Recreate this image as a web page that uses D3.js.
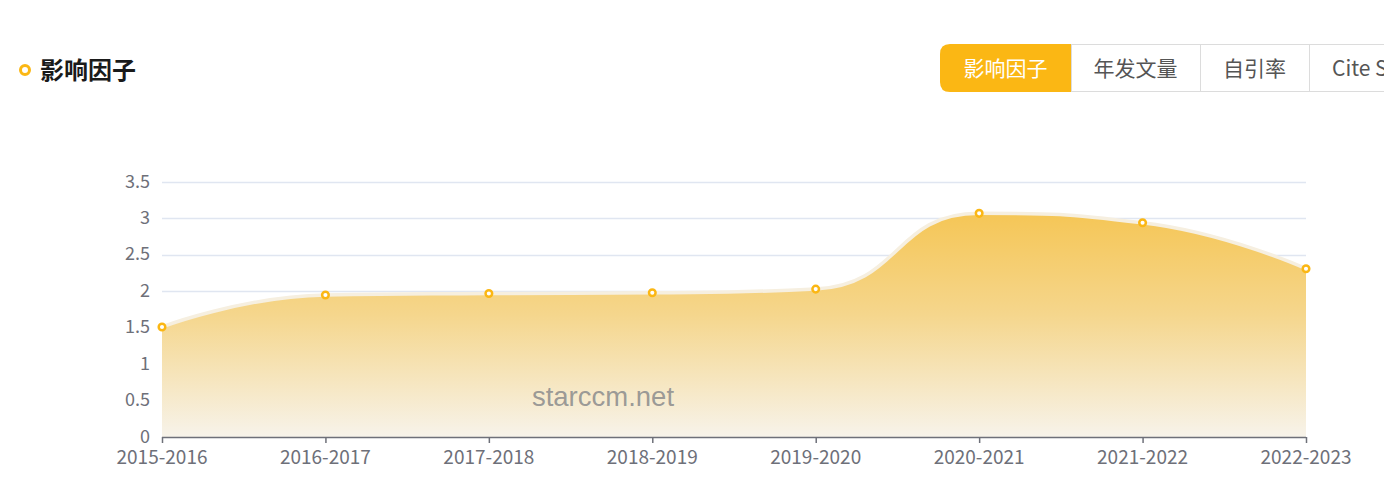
<!DOCTYPE html>
<html><head><meta charset="utf-8">
<script src="https://cdn.jsdelivr.net/npm/d3@7"></script>
<style>
body{margin:0;background:#fff;overflow:hidden;}
</style></head>
<body>
<svg id="chart" width="1384" height="490"></svg>
<script>
const categories = ["2015-2016","2016-2017","2017-2018","2018-2019","2019-2020","2020-2021","2021-2022","2022-2023"];
const values = [1.51, 1.95, 1.97, 1.98, 2.03, 3.07, 2.94, 2.31];
const yTicks = [0, 0.5, 1, 1.5, 2, 2.5, 3, 3.5];
const tabs = ["影响因子","年发文量","自引率","Cite Score"];
const title = "影响因子";
const watermark = "starccm.net";

(function(){
const svg = d3.select("#chart");
const font = "'Microsoft YaHei','Noto Sans CJK SC','Noto Sans',sans-serif";
const pL = 162, pR = 1306, pT = 182, pB = 437;

const x = d3.scalePoint().domain(categories).range([pL, pR]);
const y = d3.scaleLinear().domain([0, 3.5]).range([pB, pT]);

// title
svg.append("circle").attr("cx", 25).attr("cy", 70).attr("r", 4.5)
  .attr("fill", "#fff").attr("stroke", "#fbb714").attr("stroke-width", 3);
svg.append("text").attr("x", 40).attr("y", 79).text(title)
  .attr("font-family", font).attr("font-size", 24).attr("font-weight", "bold").attr("fill", "#1a1a1a");

// tabs
const tabX = [940, 1071, 1200, 1309, 1460];
const tg = svg.append("g");
tabs.forEach((t, i) => {
  const x0 = tabX[i], x1 = tabX[i+1];
  if (i === 0) {
    const r = 10, t0 = 44, b0 = 92;
    tg.append("path").attr("d", `M${x1},${t0} L${x0+r},${t0} Q${x0},${t0} ${x0},${t0+r} L${x0},${b0-r} Q${x0},${b0} ${x0+r},${b0} L${x1},${b0} Z`)
      .attr("fill", "#fbb714");
  } else {
    tg.append("rect").attr("x", x0 + 0.5).attr("y", 44.5).attr("width", x1 - x0).attr("height", 47)
      .attr("fill", "#fff").attr("stroke", "#dcdcdc").attr("stroke-width", 1);
  }
  tg.append("text").attr("y", 76)
    .attr("text-anchor", i===3 ? "start" : "middle")
    .attr("x", i===3 ? 1332 : (x0 + x1) / 2)
    .attr("font-family", font).attr("font-size", 21)
    .attr("fill", i === 0 ? "#fff" : "#555").text(t);
});

// grid
svg.append("g").selectAll("line").data(yTicks.filter(d => d > 0)).join("line")
  .attr("x1", pL).attr("x2", pR).attr("y1", d => Math.round(y(d)) + 0.5).attr("y2", d => Math.round(y(d)) + 0.5)
  .attr("stroke", "#e0e6f1").attr("stroke-width", 1.5);

// y labels
svg.append("g").selectAll("text").data(yTicks).join("text")
  .attr("x", 150).attr("y", d => y(d) + 5.5).attr("text-anchor", "end")
  .attr("font-family", font).attr("font-size", 18).attr("fill", "#6e7079")
  .text(d => d);

// ECharts 5 style smooth bezier (segment-constrained)
const pts = categories.map((c, i) => [x(c), y(values[i])]);
const smooth = 0.5;
function linePath(ctx) {
  const n = pts.length;
  let cp0 = pts[0].slice();
  ctx.moveTo(pts[0][0], pts[0][1]);
  for (let i = 1; i < n; i++) {
    const [px, py] = pts[i-1];
    const [cx, cy] = pts[i];
    let cp1x, cp1y, nx0, ny0;
    if (i === n - 1) {
      cp1x = cx; cp1y = cy; nx0 = cx; ny0 = cy;
    } else {
      const [nx, ny] = pts[i+1];
      let vx = nx - px, vy = ny - py;
      const lp = Math.hypot(cx - px, cy - py), ln = Math.hypot(nx - cx, ny - cy);
      const r = ln / (ln + lp);
      cp1x = cx - vx * smooth * (1 - r); cp1y = cy - vy * smooth * (1 - r);
      nx0 = cx + vx * smooth * r; ny0 = cy + vy * smooth * r;
      nx0 = Math.max(Math.min(nx0, Math.max(nx, cx)), Math.min(nx, cx));
      ny0 = Math.max(Math.min(ny0, Math.max(ny, cy)), Math.min(ny, cy));
      vx = nx0 - cx; vy = ny0 - cy;
      cp1x = cx - vx * lp / ln; cp1y = cy - vy * lp / ln;
      cp1x = Math.max(Math.min(cp1x, Math.max(px, cx)), Math.min(px, cx));
      cp1y = Math.max(Math.min(cp1y, Math.max(py, cy)), Math.min(py, cy));
      vx = cx - cp1x; vy = cy - cp1y;
      nx0 = cx + vx * ln / lp; ny0 = cy + vy * ln / lp;
    }
    ctx.bezierCurveTo(cp0[0], cp0[1], cp1x, cp1y, cx, cy);
    cp0 = [nx0, ny0];
  }
  return ctx;
}
const areaP = linePath(d3.path());
areaP.lineTo(pts[pts.length-1][0], y(0));
areaP.lineTo(pts[0][0], y(0));
areaP.closePath();

const defs = svg.append("defs");
const grad = defs.append("linearGradient").attr("id", "ag").attr("x1", 0).attr("y1", 0).attr("x2", 0).attr("y2", 1);
grad.append("stop").attr("offset", "0%").attr("stop-color", "#f5c656");
grad.append("stop").attr("offset", "45%").attr("stop-color", "#f5d68c");
grad.append("stop").attr("offset", "100%").attr("stop-color", "#f7f3ea");

svg.append("path").attr("d", areaP.toString()).attr("fill", "url(#ag)");
svg.append("path").attr("d", linePath(d3.path()).toString())
  .attr("fill", "none").attr("stroke", "#f6efe0").attr("stroke-width", 3.5);

// x axis
const xa = svg.append("g");
xa.append("line").attr("x1", pL).attr("x2", pR).attr("y1", pB + 0.5).attr("y2", pB + 0.5)
  .attr("stroke", "#6e7079").attr("stroke-width", 1.5);
xa.selectAll("line.t").data(categories).join("line").attr("class", "t")
  .attr("x1", d => x(d) + 0.5).attr("x2", d => x(d) + 0.5).attr("y1", pB).attr("y2", pB + 6)
  .attr("stroke", "#6e7079").attr("stroke-width", 1.5);
xa.selectAll("text").data(categories).join("text")
  .attr("x", d => x(d)).attr("y", 464).attr("text-anchor", "middle")
  .attr("font-family", font).attr("font-size", 19).attr("fill", "#6e7079").text(d => d);

// points
svg.append("g").selectAll("circle").data(pts).join("circle")
  .attr("cx", d => d[0]).attr("cy", d => d[1]).attr("r", 3.3)
  .attr("fill", "#fff").attr("stroke", "#fbb714").attr("stroke-width", 2.5);

// watermark
svg.append("text").attr("x", 603).attr("y", 406).attr("text-anchor", "middle")
  .attr("font-family", "Arial, 'Liberation Sans', sans-serif").attr("font-size", 27.5)
  .attr("fill", "#8f8f8f").attr("fill-opacity", 0.9).text(watermark);
})();
</script>
</body></html>
